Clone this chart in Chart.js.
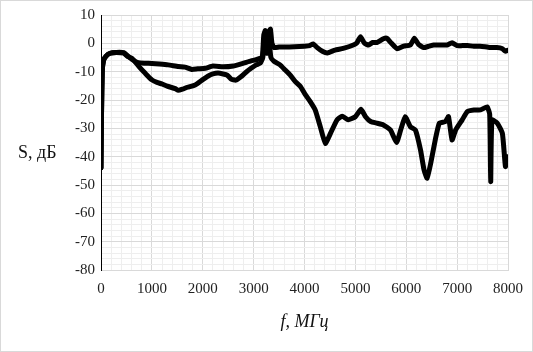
<!DOCTYPE html>
<html>
<head>
<meta charset="utf-8">
<script src="https://cdn.jsdelivr.net/npm/chart.js@4.4.1/dist/chart.umd.min.js"></script>
<style>
  html, body { margin: 0; padding: 0; background: #fff; }
  #wrap { width: 533px; height: 352px; position: relative; }
</style>
</head>
<body>
<div id="wrap"><canvas id="c" width="533" height="352"></canvas></div>
<script>
// Frequency (MHz) and S (dB) for the two measured curves
const freqA = [0, 10, 25, 50, 100, 180, 300, 450, 530, 620, 730, 850, 1000, 1150, 1320, 1520, 1650, 1785, 1900, 2050, 2200, 2400, 2600, 2800, 2950, 3050, 3120, 3170, 3200, 3230, 3260, 3300, 3330, 3360, 3400, 3500, 3600, 3800, 4000, 4100, 4170, 4250, 4350, 4450, 4600, 4760, 4960, 5030, 5100, 5180, 5260, 5340, 5430, 5550, 5620, 5690, 5820, 5950, 6080, 6160, 6240, 6340, 6450, 6540, 6650, 6800, 6900, 7000, 7100, 7200, 7330, 7450, 7550, 7660, 7780, 7880, 7950, 7990];
const sA = [-44, -25, -10, -6, -4.5, -3.5, -3.2, -3.3, -4.5, -5.8, -6.8, -7.0, -7.1, -7.3, -7.6, -8.2, -8.4, -9.2, -9.0, -8.8, -8.0, -8.3, -8.0, -7.0, -6.2, -5.8, -5.3, -5.0, 3.0, 4.5, -1.0, 4.0, 5.0, 0.0, -1.5, -1.3, -1.3, -1.2, -1.0, -0.8, -0.2, -1.5, -2.8, -3.4, -2.4, -1.8, -0.6, 0.2, 2.3, 0.0, -0.6, 0.3, 0.3, 1.6, 1.8, 0.4, -1.9, -1.0, -0.6, 1.8, -0.3, -1.5, -1.0, -0.6, -0.6, -0.6, 0.2, -0.8, -0.8, -0.8, -1.0, -1.0, -1.2, -1.5, -1.5, -1.8, -2.8, -2.5];

const freqB = [0, 10, 25, 50, 100, 180, 300, 450, 530, 600, 670, 760, 870, 1000, 1100, 1195, 1300, 1460, 1520, 1600, 1700, 1850, 2000, 2100, 2200, 2300, 2400, 2480, 2560, 2650, 2750, 2850, 2950, 3050, 3130, 3180, 3220, 3260, 3300, 3340, 3400, 3520, 3620, 3720, 3820, 3920, 4020, 4110, 4210, 4310, 4410, 4510, 4640, 4740, 4860, 5000, 5110, 5200, 5300, 5430, 5550, 5690, 5810, 5890, 5980, 6080, 6180, 6280, 6350, 6410, 6480, 6570, 6650, 6770, 6830, 6900, 6970, 7100, 7200, 7330, 7460, 7590, 7640, 7660, 7685, 7790, 7890, 7950, 7990];
const sB = [-44, -25, -10, -6, -4.5, -3.5, -3.2, -3.5, -4.7, -5.2, -6.5, -8.5, -10.6, -12.9, -13.8, -14.3, -15.1, -16.0, -16.6, -16.2, -15.5, -14.7, -12.8, -11.6, -10.8, -10.5, -10.8, -11.2, -12.6, -13.0, -11.8, -10.2, -8.8, -7.6, -7.0, -5.0, 2.5, -3.5, 1.5, -5.0, -6.3, -7.6, -9.4, -11.2, -13.5, -15.2, -18.2, -20.5, -23.5, -29.4, -35.3, -31.8, -27.0, -25.7, -27.0, -25.9, -23.3, -25.9, -27.6, -28.2, -28.8, -30.6, -35.0, -30.6, -25.9, -29.4, -30.6, -37.6, -44.7, -47.6, -42.4, -34.1, -28.2, -27.6, -25.9, -34.1, -30.6, -27.0, -24.1, -23.5, -23.5, -22.4, -25.0, -48.8, -27.0, -28.2, -31.8, -43.5, -40.0];

const xMin = 0, xMax = 8000, xStep = 200, xMajor = 1000;
const yMin = -80, yMax = 10, yStep = 2, yMajor = 10;
const xTitle = 'f, МГц';
const yTitle = 'S, дБ';

const toPts = (xs, ys) => xs.map((x, i) => ({ x: x, y: ys[i] }));
const FONT = 'Liberation Serif, DejaVu Serif, serif';
const majorGrid = '#d9d9d9', minorGrid = '#eeeeee';

const frame = {
  id: 'frame',
  beforeDraw(chart) {
    const ctx = chart.ctx;
    ctx.save();
    ctx.fillStyle = '#fff';
    ctx.fillRect(0, 0, chart.width, chart.height);
    ctx.strokeStyle = '#d9d9d9';
    ctx.lineWidth = 1;
    ctx.strokeRect(0.5, 0.5, chart.width - 1, chart.height - 1);
    ctx.restore();
  },
  afterDraw(chart) {
    const ctx = chart.ctx;
    ctx.save();
    ctx.fillStyle = '#111';
    ctx.font = '18px ' + FONT;
    ctx.textAlign = 'left';
    ctx.textBaseline = 'middle';
    ctx.fillText(yTitle, 18, 153);
    ctx.restore();
  }
};

const common = {
  borderColor: '#000',
  borderWidth: 5,
  pointRadius: 0,
  tension: 0.15,
  borderJoinStyle: 'round',
  borderCapStyle: 'round',
  fill: false
};

new Chart(document.getElementById('c'), {
  type: 'line',
  data: {
    datasets: [
      Object.assign({ label: 'S-A', data: toPts(freqA, sA) }, common),
      Object.assign({ label: 'S-B', data: toPts(freqB, sB) }, common)
    ]
  },
  options: {
    responsive: false,
    animation: false,
    layout: { padding: { top: 15, right: 25, bottom: 0, left: 0 } },
    plugins: { legend: { display: false }, tooltip: { enabled: false } },
    scales: {
      x: {
        type: 'linear',
        min: xMin, max: xMax,
        afterFit(s) { s.height = 82; },
        afterBuildTicks(s) {
          const t = [];
          for (let v = xMin; v <= xMax; v += xStep) t.push({ value: v });
          s.ticks = t;
        },
        ticks: {
          autoSkip: false, maxRotation: 0, padding: 10,
          color: '#222',
          font: { family: FONT, size: 15 },
          callback: v => (v % xMajor === 0 ? String(v) : '')
        },
        grid: {
          drawTicks: false,
          color: c => (c.tick && c.tick.value % xMajor === 0 ? majorGrid : minorGrid),
          lineWidth: 1
        },
        border: { color: majorGrid, width: 1 },
        title: {
          display: true, text: xTitle, color: '#111',
          font: { family: FONT, size: 18, style: 'italic' },
          padding: { top: 4, bottom: 19 }
        }
      },
      y: {
        type: 'linear',
        min: yMin, max: yMax,
        afterFit(s) { s.width = 101; },
        afterBuildTicks(s) {
          const t = [];
          for (let v = yMin; v <= yMax; v += yStep) t.push({ value: v });
          s.ticks = t;
        },
        ticks: {
          autoSkip: false, padding: 6,
          color: '#222',
          font: { family: FONT, size: 15 },
          callback: v => (v % yMajor === 0 ? String(v) : '')
        },
        grid: {
          drawTicks: false,
          color: c => (c.tick && c.tick.value % yMajor === 0 ? majorGrid : minorGrid),
          lineWidth: 1
        },
        border: { color: '#000', width: 1 }
      }
    }
  },
  plugins: [frame]
});
</script>
</body>
</html>
